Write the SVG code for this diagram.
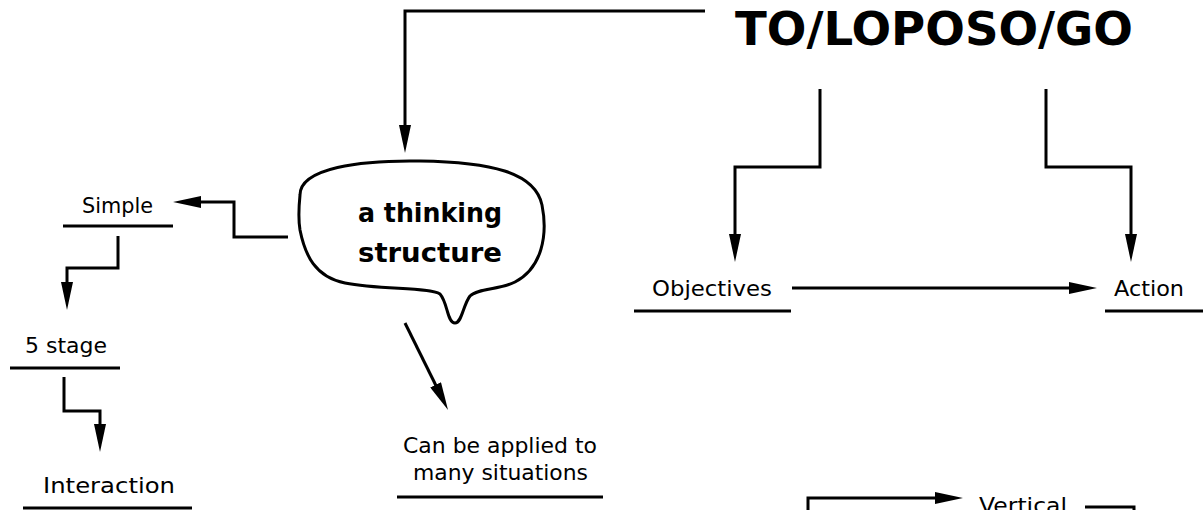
<svg xmlns="http://www.w3.org/2000/svg" width="1203" height="510" viewBox="0 0 1203 510">
<defs>
<style>
.t{font-family:"Comic Sans MS","DejaVu Sans",sans-serif;font-size:22px;fill:#000}
.b{font-family:"Comic Sans MS","DejaVu Sans",sans-serif;font-weight:bold;fill:#000}
.u{stroke:#000;stroke-width:3;fill:none}
.c{stroke:#000;stroke-width:3;fill:none;marker-end:url(#ah)}
</style>
<marker id="ah" markerUnits="userSpaceOnUse" markerWidth="28" markerHeight="12" refX="18" refY="6" orient="auto" viewBox="0 0 28 12">
<path d="M0,0 L28,6 L0,12 Z" fill="#000"/>
</marker>
</defs>
<rect width="1203" height="510" fill="#fff"/>
<g id="connectors">
<path class="c" d="M705,11 H405 V143"/>
<path class="c" d="M820,89 V167 H735 V252"/>
<path class="c" d="M1046,89 V167 H1131 V252"/>
<path class="c" d="M792,288 H1087"/>
<path class="c" d="M288,237 H234 V202 H183"/>
<path class="c" d="M118,236 V268 H67 V300"/>
<path class="c" d="M64,377 V411 H100 V442"/>
<path class="c" d="M405,323 L443.6,401"/>
<path class="c" d="M808,512 V498 H953"/>
<path class="u" d="M1085,507 H1134 V515"/>
</g>
<g id="title">
<text class="b" x="735" y="45" font-size="46" textLength="398" lengthAdjust="spacingAndGlyphs">TO/LOPOSO/GO</text>
</g>
<g id="bubble">
<path class="u" d="M300,195 C300,168 360,160 420,161 C490,162 535,172 542,205 C548,235 542,268 515,282 C500,290 478,288 470,296 C463,305 462,323 455,323 C447,323 448,303 440,294 C430,287 380,290 345,283 C315,277 305,255 300,230 C298,218 299,205 300,195 Z"/>
<text class="b" x="358" y="222" font-size="27" textLength="144" lengthAdjust="spacingAndGlyphs">a thinking</text>
<text class="b" x="358" y="262" font-size="27" textLength="144" lengthAdjust="spacingAndGlyphs">structure</text>
</g>
<g id="simple">
<text class="t" x="82" y="213" textLength="71" lengthAdjust="spacingAndGlyphs">Simple</text>
<line class="u" x1="63" y1="226" x2="173" y2="226"/>
</g>
<g id="stage">
<text class="t" x="25" y="353" textLength="82" lengthAdjust="spacingAndGlyphs">5 stage</text>
<line class="u" x1="10" y1="368" x2="120" y2="368"/>
</g>
<g id="interaction">
<text class="t" x="43" y="493" textLength="132" lengthAdjust="spacingAndGlyphs">Interaction</text>
<line class="u" x1="23" y1="508" x2="192" y2="508"/>
</g>
<g id="applied">
<text class="t" x="403" y="453" textLength="194" lengthAdjust="spacingAndGlyphs">Can be applied to</text>
<text class="t" x="413" y="480" textLength="175" lengthAdjust="spacingAndGlyphs">many situations</text>
<line class="u" x1="397" y1="497" x2="603" y2="497"/>
</g>
<g id="objectives">
<text class="t" x="652" y="296" textLength="120" lengthAdjust="spacingAndGlyphs">Objectives</text>
<line class="u" x1="634" y1="311" x2="791" y2="311"/>
</g>
<g id="action">
<text class="t" x="1114" y="296" textLength="70" lengthAdjust="spacingAndGlyphs">Action</text>
<line class="u" x1="1105" y1="311" x2="1203" y2="311"/>
</g>
<g id="vertical">
<text class="t" x="979" y="513" textLength="88" lengthAdjust="spacingAndGlyphs">Vertical</text>
</g>
</svg>
